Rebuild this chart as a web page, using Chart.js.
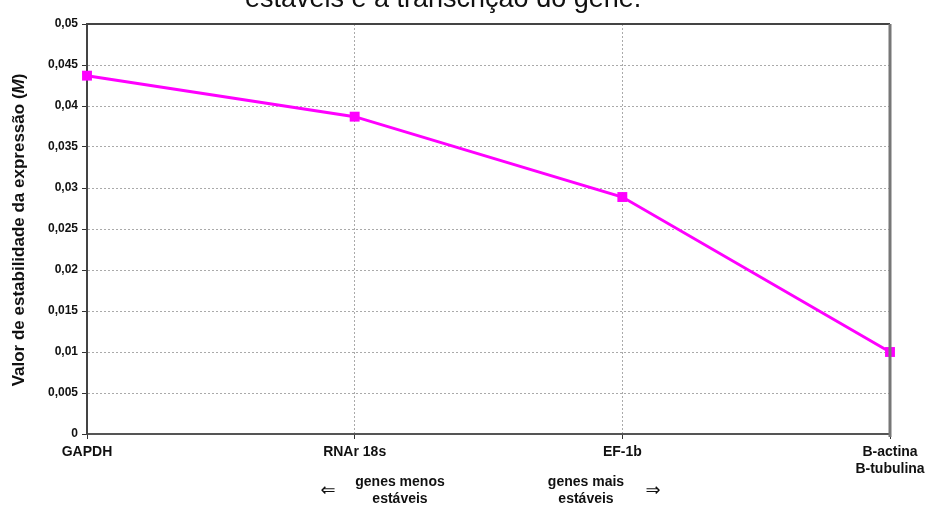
<!doctype html>
<html lang="pt">
<head>
<meta charset="utf-8">
<title>Valor de estabilidade da expressão</title>
<script src="https://cdn.jsdelivr.net/npm/chart.js"></script>
<style>
  html, body { margin: 0; padding: 0; background: #fff; }
  #wrap { width: 933px; height: 507px; position: relative; }
</style>
</head>
<body>
<div id="wrap"><canvas id="chart"></canvas></div>
<script>
// genes ordered from least to most stable
var genes = ['GAPDH', 'RNAr 18s', 'EF-1b', ['B-actina', 'B-tubulina']];
var mValues = [0.0437, 0.0387, 0.0289, 0.0100];
var yTickLabels = ['0', '0,005', '0,01', '0,015', '0,02', '0,025', '0,03', '0,035', '0,04', '0,045', '0,05'];

var FONT = '"Liberation Sans", Arial, sans-serif';

// frame, cropped caption, y title and the stability hints under the axis
var extras = {
  id: 'extras',
  afterDraw: function(chart) {
    var ctx = chart.ctx;
    var a = chart.chartArea;
    ctx.save();

    // top + right border of the plot
    ctx.lineWidth = 2;
    ctx.strokeStyle = '#444';
    ctx.beginPath();
    ctx.moveTo(a.left, a.top);
    ctx.lineTo(a.right, a.top);
    ctx.stroke();
    ctx.lineWidth = 3;
    ctx.strokeStyle = '#777';
    ctx.beginPath();
    ctx.moveTo(a.right, a.top);
    ctx.lineTo(a.right, a.bottom + 3);
    ctx.stroke();

    // caption of the figure, cut off at the top of the picture
    ctx.fillStyle = '#111';
    ctx.font = '27px ' + FONT;
    ctx.textAlign = 'left';
    ctx.textBaseline = 'alphabetic';
    ctx.fillText('estáveis e a transcrição do gene.', 245, 7);

    // y axis title with italic M
    ctx.translate(19, 230);
    ctx.rotate(-Math.PI / 2);
    ctx.textBaseline = 'middle';
    var p1 = 'Valor de estabilidade da expressão (';
    var p2 = 'M';
    var p3 = ')';
    ctx.font = 'bold 17px ' + FONT;
    var w1 = ctx.measureText(p1).width;
    var w3 = ctx.measureText(p3).width;
    ctx.font = 'italic bold 17px ' + FONT;
    var w2 = ctx.measureText(p2).width;
    var x = -(w1 + w2 + w3) / 2;
    ctx.font = 'bold 17px ' + FONT;
    ctx.textAlign = 'left';
    ctx.fillText(p1, x, 0);
    ctx.font = 'italic bold 17px ' + FONT;
    ctx.fillText(p2, x + w1, 0);
    ctx.font = 'bold 17px ' + FONT;
    ctx.fillText(p3, x + w1 + w2, 0);
    ctx.setTransform(1, 0, 0, 1, 0, 0);

    // hints below the x axis
    ctx.fillStyle = '#111';
    ctx.font = 'bold 14px ' + FONT;
    ctx.textAlign = 'center';
    ctx.textBaseline = 'middle';
    ctx.fillText('genes menos', 400, 482);
    ctx.fillText('estáveis', 400, 499);
    ctx.fillText('genes mais', 586, 482);
    ctx.fillText('estáveis', 586, 499);
    ctx.font = '18px "DejaVu Sans", sans-serif';
    ctx.fillText('⇐', 328, 491);
    ctx.fillText('⇒', 653, 491);

    ctx.restore();
  }
};

new Chart(document.getElementById('chart'), {
  type: 'line',
  data: {
    labels: genes,
    datasets: [{
      label: 'M',
      data: mValues,
      borderColor: '#ff00ff',
      backgroundColor: '#ff00ff',
      borderWidth: 3,
      pointStyle: 'rect',
      pointRadius: 7,
      pointBorderWidth: 0,
      tension: 0,
      clip: false
    }]
  },
  options: {
    responsive: true,
    maintainAspectRatio: false,
    animation: false,
    layout: { padding: { top: 24, right: 43, left: 0, bottom: 0 } },
    plugins: {
      legend: { display: false },
      tooltip: { enabled: false }
    },
    scales: {
      x: {
        type: 'category',
        offset: false,
        afterFit: function(scale) { scale.height = 73; },
        grid: {
          color: function(c) {
            return (c.index === 0 || c.index === genes.length - 1) ? 'rgba(0,0,0,0)' : '#aaa';
          },
          lineWidth: 1,
          tickColor: '#333',
          tickBorderDash: [],
          tickLength: 5,
          drawTicks: true
        },
        border: { display: true, color: '#555', width: 2, dash: [2, 2] },
        ticks: {
          color: '#111',
          font: { family: FONT, size: 14, weight: 'bold' },
          padding: 5,
          maxRotation: 0,
          autoSkip: false
        }
      },
      y: {
        min: 0,
        max: 0.05,
        afterFit: function(scale) { scale.width = 87; },
        grid: {
          color: function(c) {
            return (c.index === 0 || c.index === yTickLabels.length - 1) ? 'rgba(0,0,0,0)' : '#aaa';
          },
          lineWidth: 1,
          tickColor: '#333',
          tickBorderDash: [],
          tickLength: 5
        },
        border: { display: true, color: '#444', width: 2, dash: [2, 2] },
        ticks: {
          stepSize: 0.005,
          color: '#111',
          font: { family: FONT, size: 12, weight: 'bold' },
          padding: 4,
          callback: function(value, index) { return yTickLabels[index]; }
        }
      }
    }
  },
  plugins: [extras]
});
</script>
</body>
</html>
